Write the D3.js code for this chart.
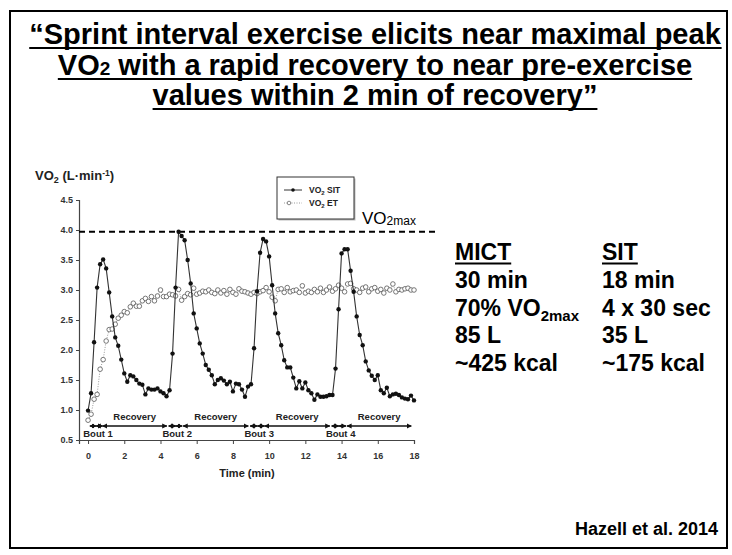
<!DOCTYPE html>
<html>
<head>
<meta charset="utf-8">
<script src="https://cdn.jsdelivr.net/npm/d3@7"></script>
<style>
  body { margin: 0; background: #fff; }
  svg text { font-family: Arial, "Liberation Sans", sans-serif; }
</style>
</head>
<body>
<svg id="slide" width="732" height="555"></svg>
<script>
// time of each sample (s), one every 10 s
const timeSec = [
  0, 10, 20, 30, 40, 50, 60, 70, 80, 90, 100, 110, 120, 130, 140, 150, 160, 170,
  180, 190, 200, 210, 220, 230, 240, 250, 260, 270, 280, 290, 300, 310, 320, 330,
  340, 350, 360, 370, 380, 390, 400, 410, 420, 430, 440, 450, 460, 470, 480, 490,
  500, 510, 520, 530, 540, 550, 560, 570, 580, 590, 600, 610, 620, 630, 640, 650,
  660, 670, 680, 690, 700, 710, 720, 730, 740, 750, 760, 770, 780, 790, 800, 810,
  820, 830, 840, 850, 860, 870, 880, 890, 900, 910, 920, 930, 940, 950, 960, 970,
  980, 990, 1000, 1010, 1020, 1030, 1040, 1050, 1060, 1070, 1080
];

// VO2 SIT (L/min)
const sitVO2 = [
  0.99, 1.28, 2.13, 3.04, 3.43, 3.51, 3.36, 2.96, 2.56, 2.21, 2.07, 1.84,
  1.61, 1.47, 1.58, 1.56, 1.50, 1.44, 1.42, 1.26, 1.36, 1.34, 1.34, 1.36,
  1.31, 1.28, 1.23, 1.33, 1.94, 3.04, 3.97, 3.90, 3.83, 3.50, 3.11, 2.61,
  2.36, 2.11, 1.94, 1.75, 1.67, 1.58, 1.43, 1.50, 1.53, 1.49, 1.43, 1.47,
  1.31, 1.44, 1.43, 1.34, 1.22, 1.39, 1.43, 2.03, 2.98, 3.62, 3.85, 3.81,
  3.56, 3.08, 2.61, 2.28, 2.08, 1.83, 1.71, 1.71, 1.54, 1.36, 1.48, 1.36,
  1.46, 1.33, 1.28, 1.17, 1.26, 1.22, 1.22, 1.23, 1.25, 1.25, 1.69, 2.68,
  3.61, 3.68, 3.68, 3.32, 2.97, 2.56, 2.25, 2.08, 1.81, 1.66, 1.57, 1.50,
  1.58, 1.33, 1.28, 1.37, 1.23, 1.26, 1.27, 1.25, 1.21, 1.19, 1.18, 1.24, 1.16
];

// VO2 ET (L/min)
const etVO2 = [
  0.83, 0.93, 1.18, 1.26, 1.68, 1.84, 2.15, 2.34, 2.35, 2.43, 2.53, 2.58,
  2.64, 2.62, 2.72, 2.78, 2.73, 2.73, 2.82, 2.86, 2.81, 2.89, 2.82, 2.90,
  3.00, 2.89, 2.89, 2.93, 2.92, 2.90, 3.01, 2.83, 2.89, 2.94, 2.92, 3.03,
  2.93, 2.95, 2.98, 2.97, 3.00, 2.96, 2.94, 3.00, 2.95, 2.99, 2.93, 3.01,
  2.96, 2.93, 3.02, 2.98, 2.97, 2.95, 2.93, 2.96, 2.94, 2.97, 2.99, 3.04,
  2.97, 2.88, 2.82, 3.01, 3.02, 2.96, 3.04, 2.97, 2.99, 3.00, 2.96, 3.07,
  2.95, 2.98, 2.96, 3.01, 2.97, 3.03, 2.96, 3.00, 3.05, 2.98, 3.02, 3.08,
  3.03, 2.97, 3.10, 3.11, 3.02, 3.00, 2.96, 3.03, 3.05, 2.97, 3.02, 3.04,
  2.98, 3.01, 2.95, 3.03, 3.00, 3.10, 2.97, 3.01, 3.00, 3.02, 3.03, 3.00, 3.00
];

const vo2max = 3.97;

// protocol phases (min)
const boutArrows = [
  [[0.1, 0.45], [0.45, 0.8]],
  [[4.45, 4.85], [4.85, 5.2]],
  [[8.95, 9.35], [9.35, 9.75]],
  [[13.45, 13.85], [13.85, 14.25]]
];
const recoveryArrows = [[0.8, 4.35], [5.25, 8.85], [9.75, 13.35], [14.3, 17.85]];
const boutLabels = ["Bout 1", "Bout 2", "Bout 3", "Bout 4"];

const xTicks = [0, 2, 4, 6, 8, 10, 12, 14, 16, 18];
const yTicks = [0.5, 1.0, 1.5, 2.0, 2.5, 3.0, 3.5, 4.0, 4.5];

const titleLines = [
  "\u201CSprint interval exercise elicits near maximal peak",
  "VO2 with a rapid recovery to near pre-exercise",
  "values within 2 min of recovery\u201D"
];

const tableMICT = ["MICT", "30 min", "70% VO2max", "85 L", "~425 kcal"];
const tableSIT = ["SIT", "18 min", "4 x 30 sec", "35 L", "~175 kcal"];

const svg = d3.select("#slide");
svg.append("rect").attr("width", 732).attr("height", 555).attr("fill", "#fff");

// slide frame
svg.append("rect")
  .attr("x", 10).attr("y", 11).attr("width", 717).attr("height", 537)
  .attr("fill", "none").attr("stroke", "#000").attr("stroke-width", 2);

// helper: write text with "VO2..." subscript handling
function writeVO(sel, str, subSize, shift) {
  const i = str.indexOf("VO2");
  if (i < 0) { sel.text(str); return; }
  sel.append("tspan").text(str.slice(0, i) + "VO");
  const rest = str.slice(i + 3);
  const m = rest.match(/^max/);
  sel.append("tspan").attr("font-size", subSize).attr("dy", shift)
    .text("2" + (m ? "max" : ""));
  const tail = m ? rest.slice(3) : rest;
  if (tail) sel.append("tspan").attr("dy", -shift).text(tail);
}

// title
const titleY = [44, 75, 105];
titleLines.forEach((line, i) => {
  const t = svg.append("text")
    .attr("x", 375).attr("y", titleY[i])
    .attr("text-anchor", "middle")
    .attr("font-size", 29).attr("font-weight", "bold").attr("fill", "#000");
  writeVO(t, line, 19, 0);
  const bb = t.node().getBBox();
  svg.append("rect").attr("x", bb.x).attr("y", titleY[i] + 3)
    .attr("width", bb.width).attr("height", 2).attr("fill", "#000");
});

// comparison table
const rowY = [260, 288, 315.5, 343, 371];
[[tableMICT, 455], [tableSIT, 602]].forEach(([col, x]) => {
  col.forEach((s, i) => {
    const t = svg.append("text").attr("x", x).attr("y", rowY[i])
      .attr("font-size", 23).attr("font-weight", "bold").attr("fill", "#000");
    writeVO(t, s, 15, 5);
    if (i === 0) {
      const bb = t.node().getBBox();
      svg.append("rect").attr("x", bb.x).attr("y", rowY[i] + 2.5)
        .attr("width", bb.width).attr("height", 2).attr("fill", "#000");
    }
  });
});

svg.append("text").attr("x", 718).attr("y", 535).attr("text-anchor", "end")
  .attr("font-size", 18).attr("font-weight", "bold").attr("fill", "#000")
  .text("Hazell et al. 2014");

// ---------------- chart ----------------
const x = d3.scaleLinear().domain([-0.5, 18]).range([79, 414]);
const y = d3.scaleLinear().domain([0.5, 4.5]).range([440, 200]);
const ink = "#222";

const g = svg.append("g");

const yAxis = g.append("g").attr("transform", "translate(79,0)")
  .call(d3.axisLeft(y).tickValues(yTicks).tickFormat(d3.format(".1f")).tickSize(3).tickPadding(3));
const xAxis = g.append("g").attr("transform", "translate(0,440)")
  .call(d3.axisBottom(x).tickValues(xTicks).tickSize(4).tickPadding(9));
[xAxis, yAxis].forEach(a => {
  a.select(".domain").attr("stroke", "#444").attr("stroke-width", 1.2);
  a.selectAll(".tick line").attr("stroke", "#444");
  a.selectAll("text").attr("font-size", 9).attr("font-weight", "bold")
    .attr("fill", "#333").attr("font-family", "Arial, 'Liberation Sans', sans-serif");
});

// y label
const yl = g.append("text").attr("x", 35).attr("y", 180)
  .attr("font-size", 13).attr("font-weight", "bold").attr("fill", ink);
yl.append("tspan").text("VO");
yl.append("tspan").attr("font-size", 9).attr("dy", 3).text("2");
yl.append("tspan").attr("dy", -3).text(" (L\u00B7min");
yl.append("tspan").attr("font-size", 8.5).attr("dy", -4).text("-1");
yl.append("tspan").attr("dy", 4).text(")");

g.append("text").attr("x", 247).attr("y", 477).attr("text-anchor", "middle")
  .attr("font-size", 11).attr("font-weight", "bold").attr("fill", ink)
  .text("Time (min)");

// VO2max reference line
g.append("line")
  .attr("x1", 79).attr("x2", 437).attr("y1", y(vo2max)).attr("y2", y(vo2max))
  .attr("stroke", "#000").attr("stroke-width", 2).attr("stroke-dasharray", "6,4");
const vm = g.append("text").attr("x", 362).attr("y", 224)
  .attr("font-size", 17).attr("fill", "#000");
vm.append("tspan").text("VO");
vm.append("tspan").attr("font-size", 12).attr("dy", 1).text("2max");

const sit = timeSec.map((t, i) => ({ t: t / 60, v: sitVO2[i] }));
const et = timeSec.map((t, i) => ({ t: t / 60, v: etVO2[i] }));
const line = d3.line().x(d => x(d.t)).y(d => y(d.v));

// ET: dotted line + open circles
g.append("path").datum(et).attr("d", line).attr("fill", "none")
  .attr("stroke", "#999").attr("stroke-width", 1).attr("stroke-dasharray", "1,1.5");
g.append("g").selectAll("circle").data(et).join("circle")
  .attr("cx", d => x(d.t)).attr("cy", d => y(d.v)).attr("r", 2.3)
  .attr("fill", "#fff").attr("stroke", "#555").attr("stroke-width", 0.8);

// SIT: solid line + filled dots
g.append("path").datum(sit).attr("d", line).attr("fill", "none")
  .attr("stroke", "#333").attr("stroke-width", 1.1);
g.append("g").selectAll("circle").data(sit).join("circle")
  .attr("cx", d => x(d.t)).attr("cy", d => y(d.v)).attr("r", 2.2)
  .attr("fill", "#111");

// phase arrows
const defs = svg.append("defs");
defs.append("marker").attr("id", "ah").attr("viewBox", "0 0 10 10")
  .attr("refX", 9).attr("refY", 5).attr("markerWidth", 3.2).attr("markerHeight", 3.2)
  .attr("orient", "auto-start-reverse")
  .append("path").attr("d", "M0,0L10,5L0,10z").attr("fill", "#111");

const arrowY = 426;
const segs = boutArrows.flat().concat(recoveryArrows);
g.append("g").selectAll("line").data(segs).join("line")
  .attr("x1", d => x(d[0])).attr("x2", d => x(d[1]))
  .attr("y1", arrowY).attr("y2", arrowY)
  .attr("stroke", "#111").attr("stroke-width", 1.6)
  .attr("marker-start", "url(#ah)").attr("marker-end", "url(#ah)");

g.append("g").selectAll("text").data(recoveryArrows).join("text")
  .attr("x", d => x((d[0] + d[1]) / 2)).attr("y", 420)
  .attr("text-anchor", "middle").attr("font-size", 9.5).attr("fill", ink)
  .attr("font-weight", "bold").text("Recovery");

g.append("g").selectAll("text").data(boutArrows).join("text")
  .attr("x", d => x((d[0][0] + d[1][1]) / 2 + 0.1)).attr("y", 437)
  .attr("text-anchor", "middle").attr("font-size", 9.5).attr("fill", ink)
  .attr("font-weight", "bold").text((d, i) => boutLabels[i]);

// legend
const lg = g.append("g").attr("transform", "translate(277,177)");
lg.append("rect").attr("x", 1.5).attr("y", 1.5).attr("width", 77).attr("height", 42).attr("fill", "#bbb");
lg.append("rect").attr("width", 77).attr("height", 42).attr("fill", "#fff")
  .attr("stroke", "#333").attr("stroke-width", 1);
lg.append("line").attr("x1", 7).attr("x2", 25).attr("y1", 13).attr("y2", 13)
  .attr("stroke", "#333").attr("stroke-width", 1);
lg.append("circle").attr("cx", 16).attr("cy", 13).attr("r", 1.8).attr("fill", "#111");
lg.append("line").attr("x1", 7).attr("x2", 25).attr("y1", 26).attr("y2", 26)
  .attr("stroke", "#999").attr("stroke-dasharray", "1,1.5");
lg.append("circle").attr("cx", 12).attr("cy", 26).attr("r", 1.8)
  .attr("fill", "#fff").attr("stroke", "#555").attr("stroke-width", 0.7);
[["SIT", 16], ["ET", 29]].forEach(([s, ty]) => {
  const t = lg.append("text").attr("x", 32).attr("y", ty)
    .attr("font-size", 8.5).attr("font-weight", "bold").attr("fill", ink);
  t.append("tspan").text("VO");
  t.append("tspan").attr("font-size", 6).attr("dy", 1.5).text("2");
  t.append("tspan").attr("dy", -1.5).text(" " + s);
});
</script>
</body>
</html>
